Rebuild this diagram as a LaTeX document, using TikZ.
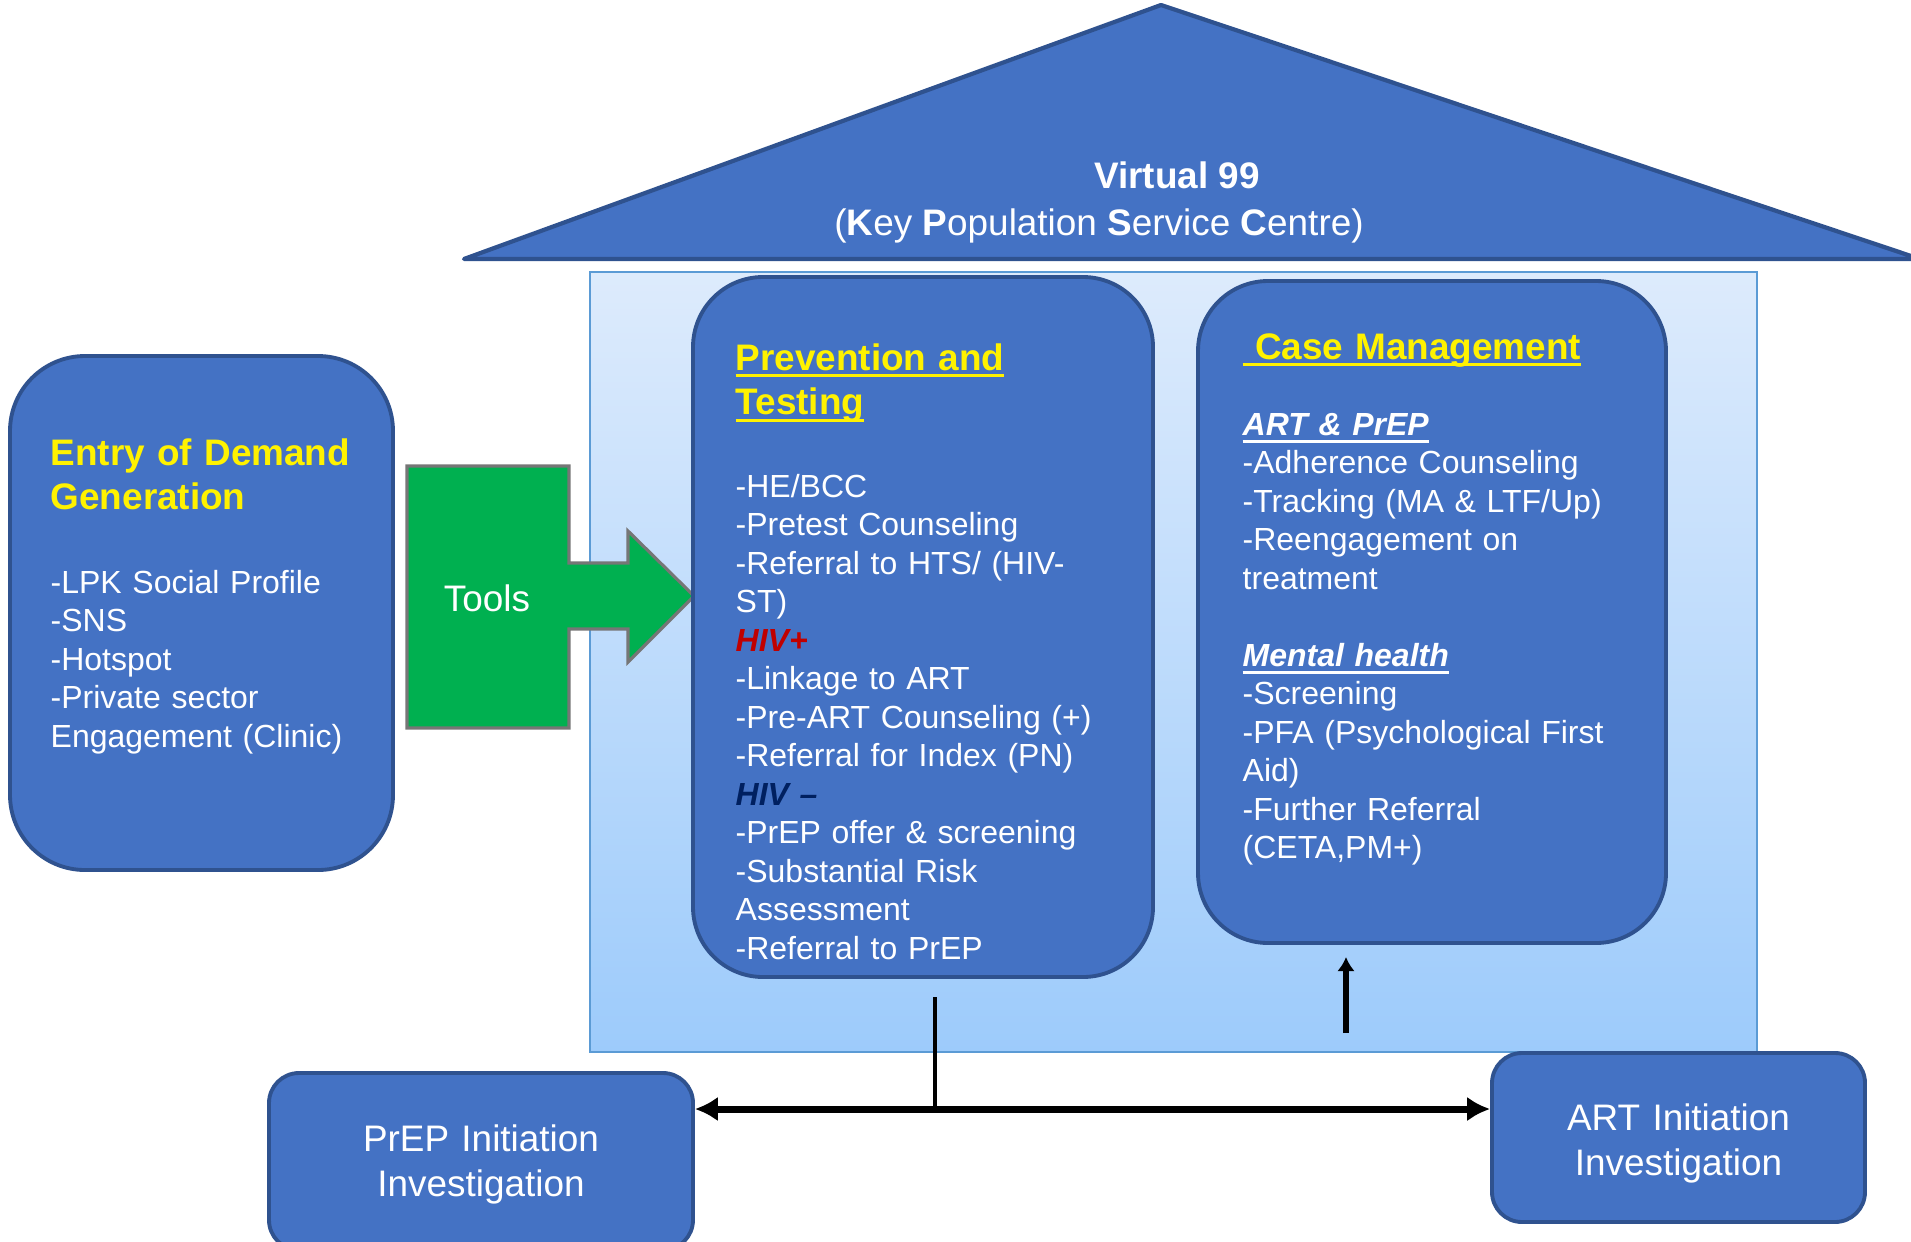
\documentclass[tikz,border=0pt]{standalone}
\usepackage{fontspec}
\setmainfont{Liberation Sans}
\usetikzlibrary{arrows.meta}

\definecolor{boxblue}{HTML}{4472C4}
\definecolor{boxline}{HTML}{2F528F}
\definecolor{palesky}{HTML}{DDEBFC}
\definecolor{deepsky}{HTML}{9DCBFB}
\definecolor{skyline}{HTML}{5B9BD5}
\definecolor{toolgreen}{HTML}{00B050}
\definecolor{toolgray}{HTML}{767676}
\definecolor{hivred}{HTML}{C00000}
\definecolor{hivnavy}{HTML}{002060}

% underline that cuts through descenders
\newlength\ulwidth
\newcommand\ulined[1]{\leavevmode\settowidth\ulwidth{#1}\rlap{#1}\rule[-2.1pt]{\ulwidth}{0.9pt}}

\begin{document}
\begin{tikzpicture}[
    >={Latex[length=6.5pt,width=7pt]},
    bluebox/.style={draw=boxline, line width=1.1pt, fill=boxblue, rounded corners=#1, inner sep=0pt},
    bluebox/.default=0.7cm,
    bodytext/.style={text=white, font=\fontsize{9.1}{10.95}\selectfont, align=left, text width=4.6cm, inner sep=0pt, anchor=base west},
    headtext/.style={text=yellow, font=\fontsize{10.5}{12.8}\selectfont\bfseries, align=left, text width=4.6cm, inner sep=0pt, anchor=base west},
    rooftext/.style={text=white, font=\fontsize{10.5}{12.8}\selectfont, anchor=base, inner sep=0pt},
    inittext/.style={text=white, font=\fontsize{10.5}{12.8}\selectfont, align=center, text width=4cm, inner sep=0pt, anchor=base}
]
    \useasboundingbox (0,0) rectangle (19.11,-12.41);
    \clip (0,0) rectangle (19.11,-12.41);
    % roof
    \draw[draw=boxline, line width=1.2pt, line join=round, fill=boxblue] (4.64,-2.59) -- (11.61,-0.05) -- (19.20,-2.59) -- cycle;
    \node[rooftext] (virt) at (11.77,-1.88) {\bfseries Virtual 99};
    \node[rooftext] (kpsc) at (10.99,-2.35) {(\textbf{K}ey \textbf{P}opulation \textbf{S}ervice \textbf{C}entre)};
    % centre
    \draw[draw=skyline, line width=0.6pt, top color=palesky, bottom color=deepsky] (5.90,-2.72) rectangle (17.57,-10.52);
    % entry
    \node[bluebox=0.75cm, minimum width=3.83cm, minimum height=5.14cm] (entry) at (2.015,-6.13) {};
    \node[headtext] (entryhead) at (0.50,-4.65) {Entry of Demand\\Generation};
    \node[bodytext] (entrylist) at (0.50,-5.935) {-LPK Social Profile\\-SNS\\-Hotspot\\-Private sector\\Engagement (Clinic)};
    % tools
    \draw[draw=toolgray, line width=0.9pt, fill=toolgreen] (4.07,-4.66) -- (5.69,-4.66) -- (5.69,-5.63) -- (6.28,-5.63) -- (6.28,-5.31) -- (6.94,-5.96) -- (6.28,-6.62) -- (6.28,-6.29) -- (5.69,-6.29) -- (5.69,-7.28) -- (4.07,-7.28) -- cycle;
    \node[rooftext, anchor=center] (tools) at (4.87,-5.98) {Tools};
    % prevention
    \node[bluebox, minimum width=4.60cm, minimum height=7.00cm] (prev) at (9.23,-6.27) {};
    \node[headtext] (prevhead) at (7.35,-3.70) {\ulined{Prevention and}\\\ulined{Testing}};
    \node[bodytext] (prevlist) at (7.35,-4.975) {-HE/BCC\\-Pretest Counseling\\-Referral to HTS/ (HIV-\\ST)\\{\bfseries\itshape\color{hivred}HIV+}\\-Linkage to ART\\-Pre-ART Counseling (+)\\-Referral for Index (PN)\\{\bfseries\itshape\color{hivnavy}HIV –}\\-PrEP offer \& screening\\-Substantial Risk\\Assessment\\-Referral to PrEP};
    % case management
    \node[bluebox, minimum width=4.68cm, minimum height=6.62cm] (case) at (14.32,-6.12) {};
    \node[headtext] (casehead) at (12.42,-3.59) {\ulined{\ Case Management}};
    \node[bodytext] (caselist) at (12.42,-4.355) {{\bfseries\itshape\ulined{ART \& PrEP}}\\-Adherence Counseling\\-Tracking (MA \& LTF/Up)\\-Reengagement on\\treatment\\[10.95pt]{\bfseries\itshape\ulined{Mental health}}\\-Screening\\-PFA (Psychological First\\Aid)\\-Further Referral\\(CETA,PM+)};
    % initiation
    \node[bluebox=0.3cm, minimum width=4.24cm, minimum height=1.77cm] (prepinit) at (4.81,-11.615) {};
    \node[inittext] (preptext) at (4.81,-11.51) {PrEP Initiation\\Investigation};
    \node[bluebox=0.3cm, minimum width=3.73cm, minimum height=1.69cm] (artinit) at (16.785,-11.375) {};
    \node[inittext] (arttext) at (16.785,-11.30) {ART Initiation\\Investigation};
    % links
    \coordinate (stem) at (9.35,-9.97);
    \coordinate (split) at (9.35,-11.09);
    \draw[line width=1.3pt] (stem) -- (split);
    \draw[line width=2pt, <->] (prepinit.east |- split) -- (artinit.west |- split);
    \coordinate (upfoot) at (13.46,-10.33);
    \coordinate (uptip) at (13.46,-9.57);
    \draw[line width=1.6pt, -{Latex[length=4pt,width=5pt]}] (upfoot) -- (uptip);
\end{tikzpicture}
\end{document}
